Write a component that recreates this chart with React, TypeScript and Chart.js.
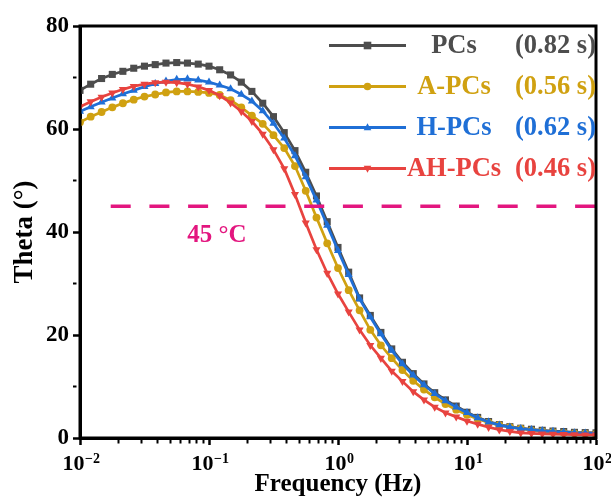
import React, { useEffect, useRef } from 'react';
import { Chart, registerables } from 'chart.js';

Chart.register(...registerables);

const FONT = "'Times New Roman', 'Liberation Serif', serif";

// Frequencies (Hz), 12 points per decade
const freqs = [
  0.01, 0.0121, 0.0147, 0.0178, 0.0215, 0.0261, 0.0316, 0.0383, 0.0464, 0.0562, 0.0681, 0.0825,
  0.1, 0.121, 0.147, 0.178, 0.215, 0.261, 0.316, 0.383, 0.464, 0.562, 0.681, 0.825,
  1, 1.21, 1.47, 1.78, 2.15, 2.61, 3.16, 3.83, 4.64, 5.62, 6.81, 8.25,
  10, 12.1, 14.7, 17.8, 21.5, 26.1, 31.6, 38.3, 46.4, 56.2, 68.1, 82.5, 100,
];

const pcs = [
  67.5, 68.7, 69.8, 70.6, 71.2, 71.8, 72.2, 72.5, 72.8, 72.9,
  72.8, 72.6, 72.2, 71.5, 70.5, 69.1, 67.3, 65.0, 62.4, 59.3,
  55.8, 51.6, 47.0, 42.0, 37.0, 32.2, 27.2, 23.8, 20.5, 17.3,
  14.7, 12.5, 10.5, 8.8, 7.4, 6.2, 5.0, 4.0, 3.2, 2.6,
  2.2, 1.9, 1.7, 1.5, 1.35, 1.25, 1.1, 1.05, 1.0,
];

const aPcs = [
  61.3, 62.4, 63.3, 64.2, 65.0, 65.7, 66.3, 66.7, 67.1, 67.3,
  67.3, 67.2, 67.0, 66.6, 65.6, 64.2, 62.6, 61.0, 58.8, 56.3,
  52.8, 48.0, 42.8, 37.8, 33.0, 28.7, 24.8, 21.0, 18.0, 15.5,
  13.2, 11.1, 9.4, 7.9, 6.6, 5.5, 4.5, 3.7, 3.0, 2.5,
  2.1, 1.8, 1.5, 1.3, 1.15, 1.0, 0.9, 0.85, 0.8,
];

const hPcs = [
  63.4, 64.3, 65.2, 66.0, 66.8, 67.5, 68.2, 68.8, 69.3, 69.6,
  69.7, 69.5, 69.1, 68.5, 67.8, 66.7, 65.4, 63.5, 61.1, 58.2,
  54.8, 50.7, 46.2, 41.3, 36.4, 31.7, 27.0, 23.5, 20.2, 17.0,
  14.4, 12.2, 10.3, 8.6, 7.2, 6.0, 4.9, 3.9, 3.1, 2.5,
  2.1, 1.8, 1.6, 1.4, 1.25, 1.15, 1.0, 0.95, 0.9,
];

const ahPcs = [
  64.3, 65.3, 66.2, 67.0, 67.7, 68.3, 68.7, 69.0, 69.1, 69.0,
  68.7, 68.2, 67.5, 66.5, 65.1, 63.4, 61.5, 59.0, 56.0, 52.3,
  47.3, 41.8, 36.6, 32.0, 28.0, 24.5, 21.0, 18.0, 15.5, 13.0,
  11.0, 9.0, 7.4, 6.0, 4.9, 4.1, 3.3, 2.7, 2.1, 1.6,
  1.3, 1.0, 0.9, 0.8, 0.75, 0.7, 0.65, 0.6, 0.6,
];

const seriesNames = ['PCs', 'A-PCs', 'H-PCs', 'AH-PCs'];
const timeConstants = ['(0.82 s)', '(0.56 s)', '(0.62 s)', '(0.46 s)'];
const seriesColors = ['#4d4d4d', '#d0a111', '#1f6fd6', '#e8433f'];
const seriesMarkers = ['rect', 'circle', 'triangle', 'triangleDown'];

// reference line at 45 degrees
const refLineFreq = [0.0173, 100];
const refLineTheta = [45, 45];
const refColor = '#e3167f';
const refLabel = '45 °C';
const refLabelFreq = 0.1153;
const refLabelTheta = 39.4;

// axes
const xMin = 0.01;
const xMax = 100;
const yMin = 0;
const yMax = 80;
const yStep = 10;
const yLabelStep = 20;
const xDecades = [0.01, 0.1, 1, 10];

const toPoints = (ys: number[]) => freqs.map((f, i) => ({ x: f, y: ys[i] }));

function isMajorLog(v: number) {
  const l = Math.log10(v);
  return Math.abs(l - Math.round(l)) < 1e-6;
}

function drawMarker(ctx: CanvasRenderingContext2D, style: string, x: number, y: number, r: number, color: string) {
  ctx.save();
  ctx.fillStyle = color;
  ctx.beginPath();
  if (style === 'rect') {
    ctx.rect(x - r, y - r, 2 * r, 2 * r);
  } else if (style === 'circle') {
    ctx.arc(x, y, r, 0, Math.PI * 2);
  } else if (style === 'triangle') {
    ctx.moveTo(x, y - r * 1.1);
    ctx.lineTo(x + r, y + r * 0.7);
    ctx.lineTo(x - r, y + r * 0.7);
    ctx.closePath();
  } else {
    ctx.moveTo(x, y + r * 1.1);
    ctx.lineTo(x + r, y - r * 0.7);
    ctx.lineTo(x - r, y - r * 0.7);
    ctx.closePath();
  }
  ctx.fill();
  ctx.restore();
}

const decorPlugin = {
  id: 'decor',
  afterDraw(chart: any) {
    const ctx: CanvasRenderingContext2D = chart.ctx;
    const { left, right, top, bottom } = chart.chartArea;
    const xs = chart.scales.x;
    const ys = chart.scales.y;

    // frame
    ctx.save();
    ctx.strokeStyle = '#000';
    ctx.lineWidth = 3;
    ctx.strokeRect(left, top, right - left, bottom - top);
    ctx.restore();

    // x tick labels with superscript exponents
    ctx.save();
    ctx.fillStyle = '#000';
    ctx.textBaseline = 'alphabetic';
    ctx.textAlign = 'left';
    xs.ticks.forEach((t: any) => {
      if (!isMajorLog(t.value)) return;
      const e = Math.round(Math.log10(t.value));
      const expStr = e < 0 ? '\u2212' + Math.abs(e) : String(e);
      const px = xs.getPixelForValue(t.value);
      ctx.font = `bold 22px ${FONT}`;
      const wBase = ctx.measureText('10').width;
      ctx.font = `bold 14px ${FONT}`;
      const wExp = ctx.measureText(expStr).width;
      const x0 = px - (wBase + wExp) / 2 + 1;
      ctx.font = `bold 22px ${FONT}`;
      ctx.fillText('10', x0, bottom + 32);
      ctx.font = `bold 14px ${FONT}`;
      ctx.fillText(expStr, x0 + wBase + 0.5, bottom + 25);
    });
    ctx.restore();

    // 45 label
    ctx.save();
    ctx.fillStyle = refColor;
    ctx.font = `bold 25px ${FONT}`;
    ctx.textAlign = 'center';
    ctx.textBaseline = 'middle';
    ctx.fillText(refLabel, xs.getPixelForValue(refLabelFreq), ys.getPixelForValue(refLabelTheta));
    ctx.restore();

    // legend
    const lineX0 = left + 249;
    const lineX1 = left + 326;
    const nameX = left + 374;
    const timeRight = right;
    const rowY0 = top + 19.5;
    const rowGap = 41;
    ctx.save();
    seriesNames.forEach((name, i) => {
      const y = rowY0 + i * rowGap;
      const c = seriesColors[i];
      ctx.strokeStyle = c;
      ctx.lineWidth = 3;
      ctx.beginPath();
      ctx.moveTo(lineX0, y);
      ctx.lineTo(lineX1, y);
      ctx.stroke();
      drawMarker(ctx, seriesMarkers[i], (lineX0 + lineX1) / 2, y, 3.8, c);
      ctx.fillStyle = c;
      ctx.font = `bold 26.5px ${FONT}`;
      ctx.textBaseline = 'middle';
      ctx.textAlign = 'center';
      ctx.fillText(name, nameX, y + 1);
      ctx.textAlign = 'right';
      ctx.fillText(timeConstants[i], timeRight, y + 1);
    });
    ctx.restore();
  },
};

function makeDataset(label: string, ys: number[], i: number, order: number) {
  const marker = seriesMarkers[i];
  const color = seriesColors[i];
  const isDown = marker === 'triangleDown';
  return {
    label,
    data: toPoints(ys),
    borderColor: color,
    backgroundColor: color,
    pointBackgroundColor: color,
    pointBorderColor: color,
    pointBorderWidth: 0,
    borderWidth: 2.7,
    pointStyle: isDown ? 'triangle' : marker,
    pointRotation: isDown ? 180 : 0,
    pointRadius: marker === 'rect' ? 5 : marker === 'circle' ? 3.9 : 4.7,
    tension: 0,
    order,
  };
}

export default function App() {
  const ref = useRef<HTMLCanvasElement | null>(null);

  useEffect(() => {
    if (!ref.current) return;
    const chart = new Chart(ref.current, {
      type: 'line',
      data: {
        datasets: [
          {
            label: 'ref',
            data: refLineFreq.map((f, i) => ({ x: f, y: refLineTheta[i] })),
            borderColor: refColor,
            borderWidth: 3.5,
            borderDash: [20, 18.7],
            pointRadius: 0,
            order: -1,
          } as any,
          makeDataset(seriesNames[3], ahPcs, 3, 0),
          makeDataset(seriesNames[2], hPcs, 2, 1),
          makeDataset(seriesNames[1], aPcs, 1, 2),
          makeDataset(seriesNames[0], pcs, 0, 3),
        ],
      },
      options: {
        responsive: false,
        animation: false,
        devicePixelRatio: 1,
        layout: { padding: { left: 0, right: 15, top: 26, bottom: 0 } },
        plugins: {
          legend: { display: false },
          tooltip: { enabled: false },
        },
        scales: {
          x: {
            type: 'logarithmic',
            min: xMin,
            max: xMax,
            afterFit: (s: any) => { s.height = 66; },
            afterBuildTicks: (s: any) => {
              const t: any[] = [];
              xDecades.forEach((d) => {
                for (let m = 1; m <= 9; m++) {
                  const v = +(d * m).toPrecision(6);
                  t.push({ value: v, major: m === 1 });
                }
              });
              t.push({ value: xMax, major: true });
              s.ticks = t;
            },
            ticks: {
              autoSkip: false,
              maxRotation: 0,
              callback: () => '',
            },
            grid: {
              drawOnChartArea: false,
              drawTicks: true,
              tickLength: 7,
              tickColor: '#000',
              tickWidth: (c: any) => (c.tick && isMajorLog(c.tick.value) ? 2.5 : 2),
              tickBorderDash: (c: any) => (c.tick && isMajorLog(c.tick.value) ? [] : [3.5, 30]),
            },
            border: { display: true, color: '#000', width: 3 },
            title: {
              display: true,
              text: 'Frequency (Hz)',
              color: '#000',
              font: { family: FONT, size: 25, weight: 'bold' },
              padding: { top: 0, bottom: 4 },
            },
          },
          y: {
            min: yMin,
            max: yMax,
            afterFit: (s: any) => { s.width = 80; },
            ticks: {
              stepSize: yStep,
              color: '#000',
              padding: 4,
              font: { family: FONT, size: 23, weight: 'bold' },
              callback: (v: any) => (Number(v) % yLabelStep === 0 ? String(v) : ''),
            },
            grid: {
              drawOnChartArea: false,
              drawTicks: true,
              tickLength: 7,
              tickColor: '#000',
              tickWidth: (c: any) => (c.tick && c.tick.value % yLabelStep === 0 ? 2.5 : 2),
              tickBorderDash: (c: any) => (c.tick && c.tick.value % yLabelStep === 0 ? [] : [3.5, 30]),
            },
            border: { display: true, color: '#000', width: 3 },
            title: {
              display: true,
              text: 'Theta (°)',
              color: '#000',
              font: { family: FONT, size: 27, weight: 'bold' },
              padding: { top: 9, bottom: 0 },
            },
          },
        },
      } as any,
      plugins: [decorPlugin],
    });
    return () => chart.destroy();
  }, []);

  return (
    <div style={{ position: 'absolute', left: 0, top: 0, width: 611, height: 504, background: '#fff' }}>
      <canvas ref={ref} width={611} height={504} style={{ display: 'block', width: 611, height: 504 }} />
    </div>
  );
}
